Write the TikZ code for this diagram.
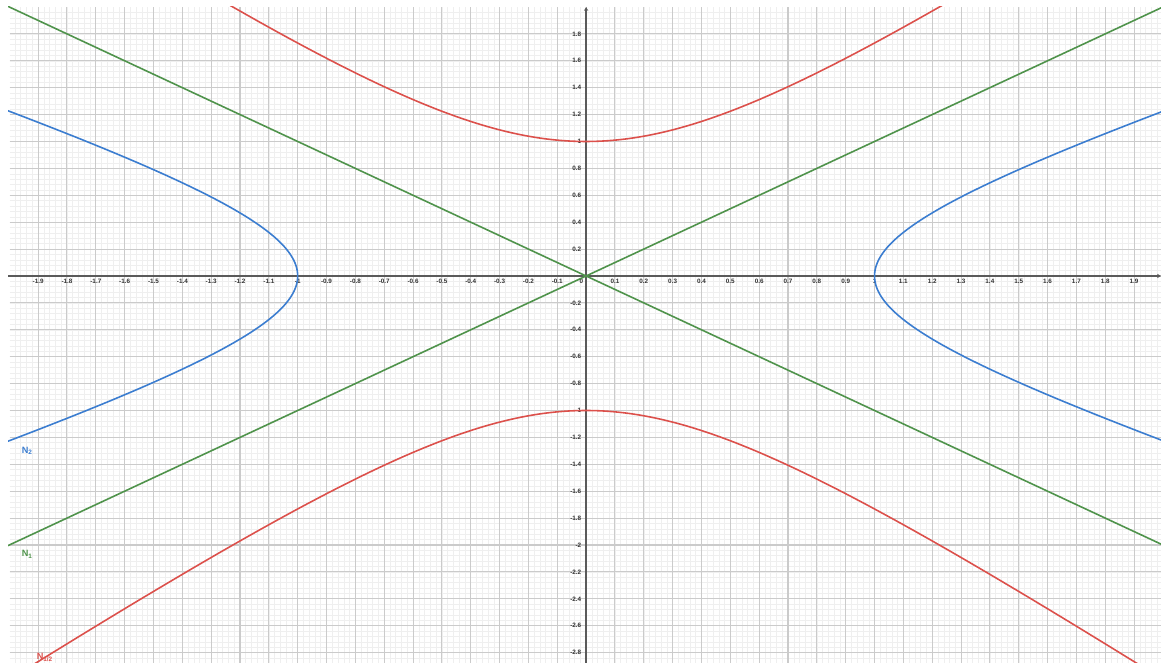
\documentclass[tikz,border=0pt]{standalone}
\usepackage{fontspec}
\setmainfont{Liberation Sans}
\usepackage{tikz}
\usetikzlibrary{positioning,arrows.meta}
\usepackage{xcolor}
\definecolor{curvered}{HTML}{DC504B}
\definecolor{curveblue}{HTML}{3B7DD0}
\definecolor{curvegreen}{HTML}{4F934B}
\definecolor{gridmajor}{HTML}{CBCBCB}
\definecolor{gridminor}{HTML}{EFEFEF}
\definecolor{axisgray}{HTML}{5A5A5A}
\definecolor{ink}{HTML}{333333}

\tikzset{
  minorgrid/.style={gridminor, line width=0.3pt},
  majorgrid/.style={gridmajor, line width=0.6pt},
  axisline/.style={axisgray, line width=0.85pt},
  ticklab/.style={ink, font=\fontsize{3.6}{4}\selectfont\bfseries, inner sep=0.6pt},
  curvelab/.style={font=\fontsize{5.2}{6}\selectfont\bfseries, inner sep=0pt, anchor=west},
  curve/.style={line width=0.9pt}
}

\begin{document}
\begin{tikzpicture}[x=5.768cm, y=2.69cm, >={Stealth[length=2.2pt,width=2.4pt]}]
    \useasboundingbox (-2.0323,-2.8773) rectangle (1.9934,2.0520);
    \fill[white] (-2.0323,-2.8773) rectangle (1.9934,2.0520);
    \clip (-2.0045,-2.8773) rectangle (1.9934,2.001);

    % grid
    \draw[minorgrid, xstep=0.02, ystep=0.04] (-1.999,-2.88) grid (2,1.999);
    \draw[majorgrid, xstep=0.1, ystep=0.2] (-1.999,-2.88) grid (2,1.999);

    % axes
    \draw[axisline, ->] (-2.04,0) -- (1.9934,0);
    \draw[axisline, ->] (0,-2.88) -- (0,2.0);

    \foreach \v in {-1.9,-1.8,-1.7,-1.6,-1.5,-1.4,-1.3,-1.2,-1.1,-1,-0.9,-0.8,-0.7,-0.6,-0.5,-0.4,-0.3,-0.2,-0.1,0.1,0.2,0.3,0.4,0.5,0.6,0.7,0.8,0.9,1.1,1.2,1.3,1.4,1.5,1.6,1.7,1.8,1.9}
      \node[ticklab, anchor=north] (xl\v) at (\v,-0.015) {\v};
    \node[ticklab, anchor=north] (xl1) at (1,-0.015) {1};
    \node[ticklab, anchor=north east] (xl0) at (-0.005,-0.015) {0};
    \foreach \v in {1.8,1.6,1.4,1.2,1,0.8,0.6,0.4,0.2,-0.2,-0.4,-0.6,-0.8,-1,-1.2,-1.4,-1.6,-1.8,-2,-2.2,-2.4,-2.6,-2.8}
      \node[ticklab, anchor=east] (yl\v) at (-0.012,\v) {\v};

    % N_1
    \draw[curve, curvegreen] (-2.1,-2.1) -- (2.1,2.1);
    \draw[curve, curvegreen] (-2.1,2.1) -- (2.1,-2.1);
    % N_2
    \draw[curve, curveblue, domain=-1.45:1.45, samples=120, smooth]
      plot ({cosh(\x)}, {sinh(\x)/sqrt(2)});
    \draw[curve, curveblue, domain=-1.45:1.45, samples=120, smooth]
      plot ({-cosh(\x)}, {sinh(\x)/sqrt(2)});
    % N_1/2
    \draw[curve, curvered, domain=-1.85:1.85, samples=120, smooth]
      plot ({sinh(\x)/sqrt(2)}, {cosh(\x)});
    \draw[curve, curvered, domain=-1.85:1.85, samples=120, smooth]
      plot ({sinh(\x)/sqrt(2)}, {-cosh(\x)});

    \node[curvelab, curveblue] (n2) at (-1.958,-1.30) {N\textsubscript{2}};
    \node[curvelab, curvegreen] (n1) at (-1.958,-2.07) {N\textsubscript{1}};
    \node[curvelab, curvered] (nhalf) at (-1.906,-2.835) {N\textsubscript{1/2}};
  \end{tikzpicture}
\end{document}
